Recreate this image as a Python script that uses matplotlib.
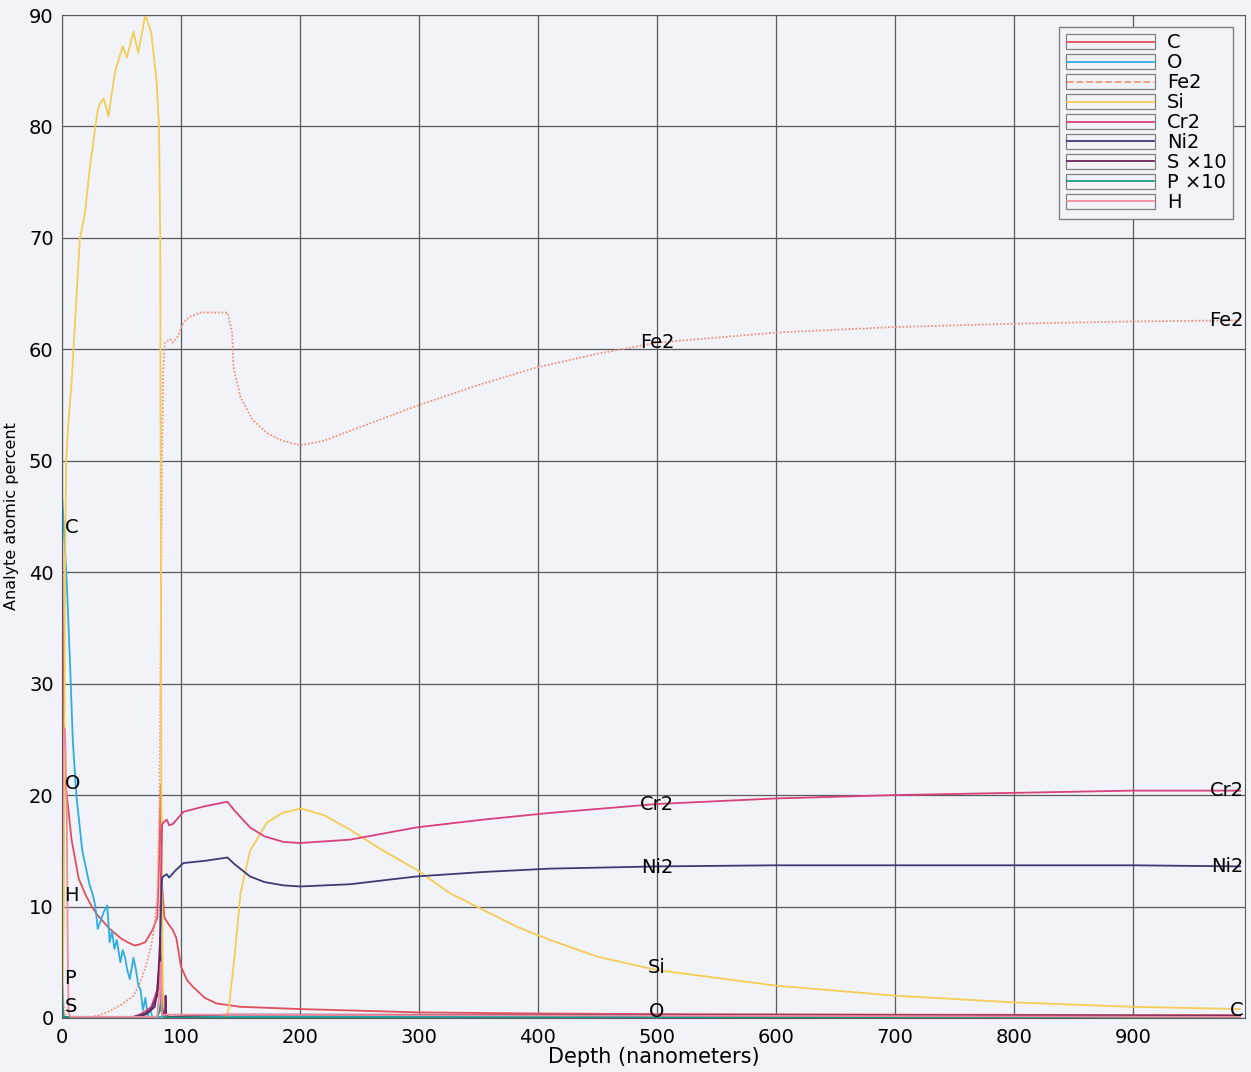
import matplotlib
matplotlib.use('Agg')
import matplotlib.pyplot as plt
from matplotlib.legend_handler import HandlerBase
from matplotlib.lines import Line2D
from matplotlib.patches import Rectangle

# depth profile values (depth in nm, atomic percent)
c_x = [0, 0.5, 1, 2, 3, 5, 8, 14, 20, 25, 30, 40, 50, 55, 61, 65, 70, 76, 80, 81, 82, 83, 84, 86, 89, 93, 96, 100, 105, 110, 120, 130, 150, 200, 300, 400, 500, 700, 990]
c_y = [44, 36, 30, 24, 21, 19, 16, 12.5, 11, 10, 9.2, 8, 7.1, 6.8, 6.5, 6.6, 6.8, 7.9, 9, 12, 16, 21, 12, 9, 8.5, 7.9, 7.2, 4.6, 3.4, 2.8, 1.8, 1.3, 1.0, 0.8, 0.5, 0.4, 0.35, 0.3, 0.25]

o_x = [0, 1, 2, 4, 7, 9, 12, 15, 17, 20, 23, 26, 28, 30, 32, 35, 38, 40, 42, 44, 46, 49, 51, 53, 55, 57, 60, 62, 64, 66, 68, 70, 72, 74, 76, 80, 90, 200, 500, 990]
o_y = [47, 45, 43, 39, 31, 25, 20, 17, 15, 13.5, 12, 11, 10, 8, 8.6, 9.5, 10.1, 6.8, 7.8, 6.2, 7.0, 5.0, 6.1, 5.4, 4.2, 3.5, 5.4, 4.4, 3.0, 2.5, 0.7, 1.8, 0.2, 0.9, 0.0, 0.1, 0.1, 0.15, 0.15, 0.1]

fe_x = [0, 2, 4, 20, 30, 40, 50, 60, 65, 70, 75, 78, 80, 82, 83, 84, 85, 86.5, 91, 93, 97, 102, 107, 116, 139, 143, 144, 150, 160, 172, 185, 200, 220, 250, 300, 350, 400, 450, 500, 600, 700, 800, 900, 990]
fe_y = [3, 0.5, 0, 0, 0.2, 0.6, 1.2, 2.0, 3.0, 4.5, 6.5, 8.5, 11, 20, 35, 50, 58, 60.6, 60.9, 60.6, 61.1, 62.4, 62.9, 63.3, 63.3, 61.5, 58.4, 55.7, 53.7, 52.5, 51.8, 51.4, 51.8, 53, 55, 56.8, 58.4, 59.6, 60.6, 61.5, 62, 62.3, 62.5, 62.6]

si_x = [0, 1.5, 2.5, 3.5, 5, 8, 15, 19, 23.5, 30, 32, 35, 39, 44.5, 51, 54.5, 60, 64, 70, 75, 79.5, 81.5, 82.5, 83.5, 85, 138, 140, 145, 150, 158, 172, 185, 201, 220, 242, 270, 298, 326, 354, 382, 410, 450, 500, 600, 700, 800, 900, 990]
si_y = [0, 10, 40, 50, 53, 57, 70, 72, 76.4, 81.5, 82.1, 82.5, 80.9, 84.9, 87.2, 86.2, 88.5, 86.6, 90, 88.4, 84, 80, 70, 20, 0, 0, 0.8, 5.5, 11.2, 15, 17.5, 18.4, 18.8, 18.2, 16.9, 15, 13.3, 11.2, 9.7, 8.2, 7.0, 5.5, 4.3, 2.9, 2.0, 1.4, 1.0, 0.8]

cr_x = [0, 50, 60, 65, 70, 75, 80, 82, 83, 84, 85, 88, 90, 93, 102, 120, 139, 145, 158, 170, 186, 200, 242, 298, 354, 410, 500, 600, 700, 800, 900, 990]
cr_y = [0, 0, 0.1, 0.3, 0.6, 1.0, 2.5, 5, 12, 17.3, 17.5, 17.8, 17.3, 17.4, 18.5, 19.0, 19.4, 18.6, 17.1, 16.3, 15.8, 15.7, 16.0, 17.1, 17.8, 18.4, 19.2, 19.7, 20.0, 20.2, 20.4, 20.4]

ni_x = [0, 55, 65, 70, 75, 80, 82, 83, 84, 85, 88, 90, 95, 102, 120, 139, 145, 158, 170, 186, 200, 242, 298, 354, 410, 500, 600, 700, 800, 900, 990]
ni_y = [0, 0, 0.2, 0.4, 0.8, 2, 4, 9, 12.5, 12.7, 12.9, 12.6, 13.2, 13.9, 14.1, 14.4, 13.8, 12.7, 12.2, 11.9, 11.8, 12.0, 12.7, 13.1, 13.4, 13.6, 13.7, 13.7, 13.7, 13.7, 13.6]

s_x = [0, 0.8, 1.5, 60, 70, 78, 80, 81.5, 82.5, 83.5, 85, 86.5, 87, 87.5, 90, 110, 140, 200, 500, 990]
s_y = [1.0, 0.4, 0, 0, 0.3, 1.0, 2.5, 5, 7.2, 1.5, 0.3, 0.3, 2.0, 0.3, 0.1, 0.2, 0.3, 0.3, 0.25, 0.2]

p_x = [0, 0.6, 1.2, 80, 82, 83, 84, 86, 990]
p_y = [3.5, 1.0, 0.1, 0.1, 0.6, 1.5, 0.3, 0.05, 0.05]

h_x = [0, 1, 2.5, 4, 4.8, 5.5, 7, 80, 82, 83, 84, 990]
h_y = [11, 24, 26, 18, 6, 0.5, 0.1, 0.1, 2.5, 5, 0.3, 0.1]

series = [
    ('C', c_x, c_y, '#e0505c', '-'),
    ('O', o_x, o_y, '#2eaee0', '-'),
    ('Fe2', fe_x, fe_y, '#f0967a', (0, (1, 1))),
    ('Si', si_x, si_y, '#f4cd55', '-'),
    ('Cr2', cr_x, cr_y, '#d8407e', '-'),
    ('Ni2', ni_x, ni_y, '#3c3c72', '-'),
    ('S \u00d710', s_x, s_y, '#6e2458', '-'),
    ('P \u00d710', p_x, p_y, '#1e9c82', '-'),
    ('H', h_x, h_y, '#f08ca0', '-'),
]

# curve labels drawn on the plot
left_labels = [('C', 44), ('O', 21), ('H', 11), ('P', 3.5), ('S', 1)]
mid_labels = [('Fe2', 60.6), ('Cr2', 19.2), ('Ni2', 13.5), ('Si', 4.5), ('O', 0.6)]
right_labels = [('Fe2', 62.6), ('Cr2', 20.4), ('Ni2', 13.6), ('C', 0.7)]


class BoxedLine(HandlerBase):
    # legend handle: a small frame with the line inside
    def create_artists(self, legend, orig_handle, xdescent, ydescent, width, height, fontsize, trans):
        x0, y0 = -xdescent, -ydescent
        box = Rectangle((x0, y0 - 0.12 * height), width, 1.24 * height, fc='none', ec='#808080', lw=0.9, transform=trans)
        ln = Line2D([x0 + 1, x0 + width - 1], [y0 + height / 2] * 2, color=orig_handle.get_color(),
                    ls=orig_handle.get_linestyle(), lw=1.3, transform=trans)
        return [box, ln]


plt.rcParams['font.family'] = ['DejaVu Sans']
bg = '#f1f3f8'
fig = plt.figure(figsize=(12.51, 10.72), dpi=100, facecolor=bg)
ax = fig.add_axes([0.0496, 0.0504, 0.9454, 0.9356], facecolor=bg)

handles = []
for name, xs, ys, col, ls in series:
    h, = ax.plot(xs, ys, color=col, ls=ls, lw=1.3, label=name)
    handles.append(h)

ax.set_xlim(0, 994)
ax.set_ylim(0, 90)
ax.set_xticks(range(0, 1000, 100))
ax.set_yticks(range(0, 91, 10))
ax.grid(True, color='#5a5a5a', lw=0.9)
ax.set_axisbelow(True)
ax.tick_params(axis='x', length=0, labelsize=14, pad=7)
ax.tick_params(axis='y', length=0, labelsize=14, pad=6)
for sp in ax.spines.values():
    sp.set_color('#5a5a5a')

ax.set_xlabel('Depth (nanometers)', fontsize=15, labelpad=0)
ax.set_ylabel('Analyte atomic percent', fontsize=11.5)
ax.yaxis.set_label_coords(-0.036, 0.5)

for txt, y in left_labels:
    ax.text(2, y, txt, fontsize=14, ha='left', va='center')
for txt, y in mid_labels:
    ax.text(500, y, txt, fontsize=14, ha='center', va='center')
for txt, y in right_labels:
    ax.text(993, y, txt, fontsize=14, ha='right', va='center')

leg = ax.legend(handles=handles, handler_map={Line2D: BoxedLine()}, loc='upper right',
                fontsize=14, handlelength=4.6, handleheight=0.6, handletextpad=0.6, labelspacing=0.05,
                borderaxespad=0.6, borderpad=0.35, fancybox=False, framealpha=1)
leg.get_frame().set_edgecolor('#808080')
leg.get_frame().set_facecolor(bg)

fig.savefig('out.png', dpi=100, facecolor=bg)
